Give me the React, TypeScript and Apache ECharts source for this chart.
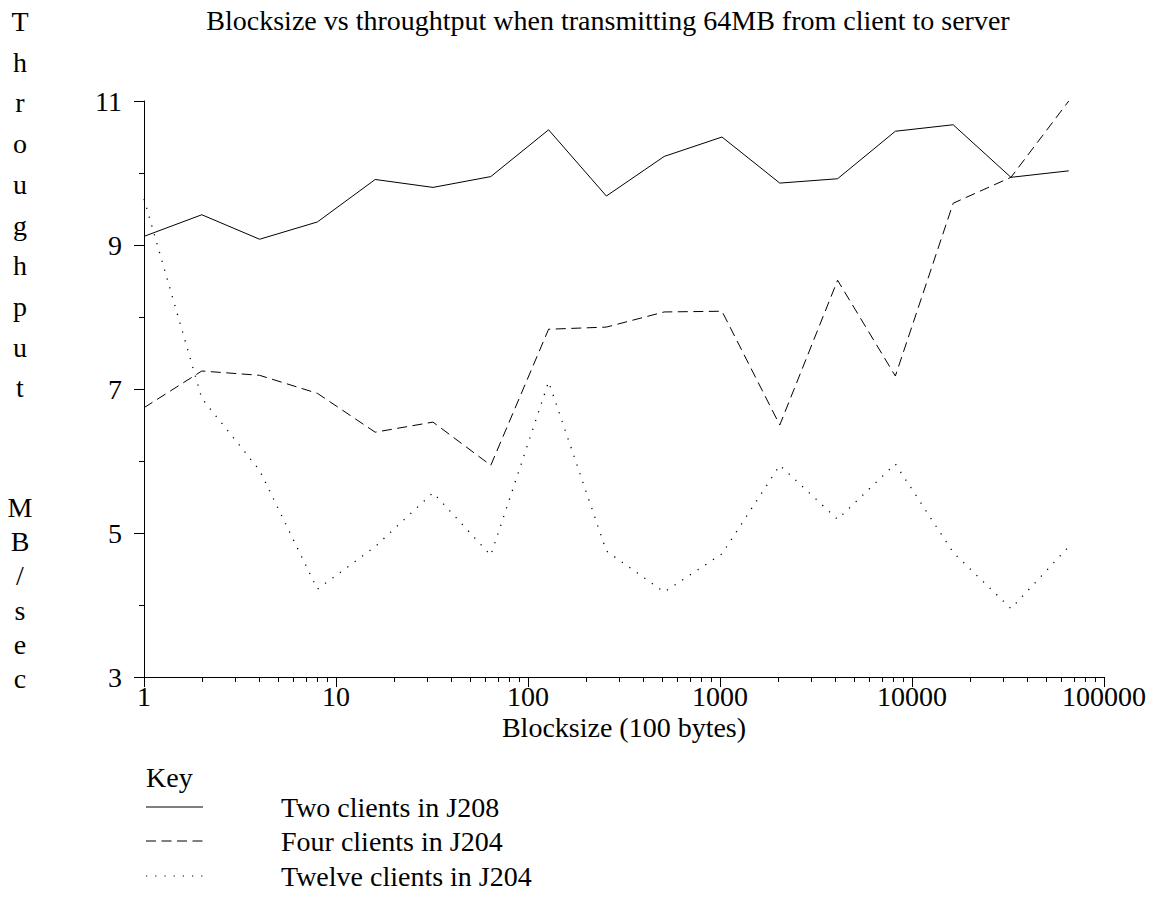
import React, { useEffect, useRef } from "react";
import * as echarts from "echarts";

// ---- data ----
const blocksizes = [1, 2, 4, 8, 16, 32, 64, 128, 256, 512, 1024, 2048, 4096, 8192, 16384, 32768, 65536];
const twoClientsJ208 = [9.12, 9.42, 9.08, 9.32, 9.91, 9.8, 9.95, 10.6, 9.68, 10.23, 10.5, 9.86, 9.92, 10.58, 10.67, 9.94, 10.03];
const fourClientsJ204 = [6.74, 7.25, 7.19, 6.94, 6.4, 6.54, 5.94, 7.83, 7.86, 8.07, 8.08, 6.5, 8.51, 7.18, 9.58, 9.94, 11.0];
const twelveClientsJ204 = [9.64, 6.87, 5.87, 4.22, 4.81, 5.56, 4.69, 7.1, 4.75, 4.18, 4.71, 5.94, 5.19, 5.96, 4.73, 3.95, 4.81];
const seriesNames = ["Two clients in J208", "Four clients in J204", "Twelve clients in J204"];
const xDecades = [1, 10, 100, 1000, 10000, 100000];
const yMin = 3;
const yMax = 11;
const yInterval = 2;
const titleText = "Blocksize vs throughtput when transmitting 64MB from client to server";
const xAxisName = "Blocksize (100 bytes)";
const yNameTop = "Throughput";
const yNameBottom = "MB/sec";
const legendTitle = "Key";

const FONT = '"Liberation Serif", "Times New Roman", serif';
const FS = 28;

export default function App() {
  const ref = useRef<HTMLDivElement>(null);
  useEffect(() => {
    document.body.style.margin = "0";
    if (!ref.current) return;
    const chart = echarts.init(ref.current, null, { renderer: "svg" });

    const gridLeft = 144;
    const gridTop = 101;
    const gridW = 960;
    const gridH = 576;

    // minor log ticks (2..9 per decade), positions via a hidden linear log10 axis
    const minorLog: number[] = [];
    for (let d = 0; d < xDecades.length - 1; d++) {
      for (let k = 2; k <= 9; k++) minorLog.push(Math.log10(xDecades[d] * k));
    }

    const lineDashes: any[] = ["solid", [10, 5.5], [1.2, 8]];
    const seriesData = [twoClientsJ208, fourClientsJ204, twelveClientsJ204];

    const graphics: any[] = [];
    graphics.push({
      type: "text",
      x: 608,
      y: 20.5,
      style: { text: titleText, fontSize: FS, fontFamily: FONT, fill: "#000", align: "center", verticalAlign: "middle" },
    });
    graphics.push({
      type: "text",
      x: gridLeft + gridW / 2,
      y: 727,
      style: { text: xAxisName, fontSize: FS, fontFamily: FONT, fill: "#000", align: "center", verticalAlign: "middle" },
    });
    yNameTop.split("").forEach((ch, i) => {
      graphics.push({
        type: "text",
        x: 20,
        y: 21.5 + 40.7 * i,
        style: { text: ch, fontSize: FS, fontFamily: FONT, fill: "#000", align: "center", verticalAlign: "middle" },
      });
    });
    yNameBottom.split("").forEach((ch, i) => {
      graphics.push({
        type: "text",
        x: 20,
        y: 507.5 + 34.2 * i,
        style: { text: ch, fontSize: FS, fontFamily: FONT, fill: "#000", align: "center", verticalAlign: "middle" },
      });
    });
    graphics.push({
      type: "text",
      x: 146,
      y: 777,
      style: { text: legendTitle, fontSize: FS, fontFamily: FONT, fill: "#000", align: "left", verticalAlign: "middle" },
    });
    const rowYs = [807, 841, 876];
    seriesNames.forEach((name, i) => {
      const dash = lineDashes[i];
      graphics.push({
        type: "line",
        shape: { x1: 146, y1: rowYs[i], x2: 203, y2: rowYs[i] },
        style: { stroke: "#000", lineWidth: 1, lineDash: dash === "solid" ? null : dash },
      });
      graphics.push({
        type: "text",
        x: 281,
        y: rowYs[i],
        style: { text: name, fontSize: FS, fontFamily: FONT, fill: "#000", align: "left", verticalAlign: "middle" },
      });
    });

    const option: any = {
      animation: false,
      backgroundColor: "#fff",
      textStyle: { fontFamily: FONT },
      grid: { left: gridLeft, top: gridTop, width: gridW, height: gridH, containLabel: false, outerBoundsMode: "none" },
      xAxis: [
        {
          type: "log",
          logBase: 10,
          min: xDecades[0],
          max: xDecades[xDecades.length - 1],
          position: "bottom",
          axisLine: { show: true, lineStyle: { color: "#000", width: 1 } },
          axisTick: { show: true, length: 10, inside: false, lineStyle: { color: "#000", width: 1 } },
          axisLabel: {
            show: true,
            margin: 5,
            fontSize: FS,
            fontFamily: FONT,
            color: "#000",
            formatter: (v: number) => String(Math.round(v)),
          },
          splitLine: { show: false },
          minorTick: { show: false },
        },
        {
          type: "value",
          min: 0,
          max: Math.log10(xDecades[xDecades.length - 1]),
          position: "bottom",
          axisLine: { show: false },
          axisLabel: { show: false },
          splitLine: { show: false },
          axisTick: { show: true, length: 5, inside: false, customValues: minorLog, lineStyle: { color: "#000", width: 1 } },
        },
      ],
      yAxis: {
        type: "value",
        min: yMin,
        max: yMax,
        interval: yInterval,
        axisLine: { show: true, lineStyle: { color: "#000", width: 1 } },
        axisTick: { show: true, length: 10, inside: false, lineStyle: { color: "#000", width: 1 } },
        minorTick: { show: true, splitNumber: 2, length: 5, lineStyle: { color: "#000", width: 1 } },
        axisLabel: { margin: 22, fontSize: FS, fontFamily: FONT, color: "#000" },
        splitLine: { show: false },
        minorSplitLine: { show: false },
      },
      series: seriesNames.map((name, i) => ({
        name,
        type: "line",
        xAxisIndex: 0,
        yAxisIndex: 0,
        data: blocksizes.map((b, j) => [b, seriesData[i][j]]),
        symbol: "none",
        clip: false,
        lineStyle: { color: "#000", width: i === 2 ? 1.3 : 1, type: lineDashes[i], cap: "butt" },
      })),
      graphic: graphics,
    };
    chart.setOption(option);
    return () => chart.dispose();
  }, []);
  return <div ref={ref} style={{ width: 1153, height: 921, position: "absolute", left: 0, top: 0 }} />;
}
